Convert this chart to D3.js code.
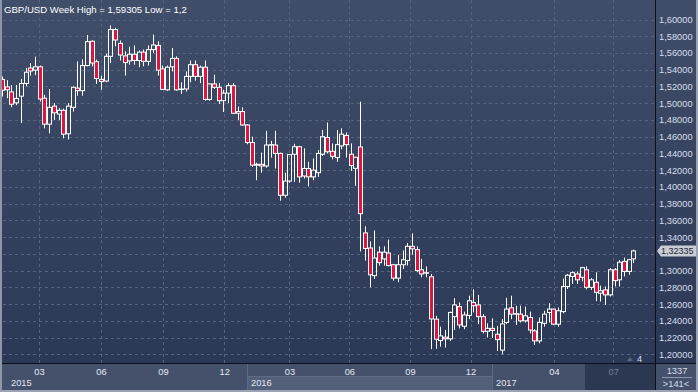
<!DOCTYPE html>
<html><head><meta charset="utf-8">
<script src="https://cdn.jsdelivr.net/npm/d3@7"></script>
<style>html,body{margin:0;padding:0;background:#2f3c58;overflow:hidden}text{font-family:"Liberation Sans",Arial,sans-serif}</style>
</head><body>
<svg id="c" width="698" height="392"></svg>
<script>
// ---- data ----
const firstWeek = "2015-01-05"; // Monday of first weekly candle
const open = [1.5284,1.5195,1.5135,1.5004,1.5084,1.5236,1.5420,1.5395,1.5435,1.5060,
1.4750,1.4965,1.4870,1.4915,1.4635,1.4950,1.5180,1.5150,1.5450,1.5740,
1.5495,1.5285,1.5265,1.5560,1.5880,1.5715,1.5565,1.5505,1.5585,1.5510,
1.5610,1.5500,1.5640,1.5690,1.5410,1.5160,1.5435,1.5535,1.5170,1.5170,
1.5320,1.5460,1.5320,1.5430,1.5045,1.5230,1.5190,1.5030,1.5120,1.5210,
1.4880,1.4900,1.4740,1.4530,1.4260,1.4270,1.4250,1.4500,1.4500,1.4400,
1.3900,1.4070,1.4390,1.4480,1.4130,1.4220,1.4120,1.4170,1.4390,1.4590,
1.4425,1.4350,1.4490,1.4615,1.4390,1.4222,1.4477,1.3450,1.3270,1.2940,
1.3220,1.3140,1.3210,1.3070,1.2910,1.3070,1.3120,1.3290,1.3250,1.3010,
1.2970,1.2926,1.2420,1.2165,1.2205,1.2185,1.2450,1.2570,1.2335,1.2465,
1.2620,1.2590,1.2450,1.2275,1.2310,1.2240,1.2050,1.2380,1.2555,1.2480,
1.2480,1.2400,1.2440,1.2280,1.2160,1.2370,1.2500,1.2540,1.2360,1.2510,
1.2810,1.2930,1.2960,1.2920,1.3010,1.2800,1.2860,1.2730,1.2770,1.2710,
1.3010,1.2890,1.3110,1.2990,1.3140];
const high = [1.5320,1.5275,1.5216,1.5216,1.5290,1.5420,1.5480,1.5555,1.5450,1.5100,
1.5170,1.5000,1.4940,1.4935,1.5000,1.5200,1.5500,1.5525,1.5815,1.5750,
1.5520,1.5330,1.5590,1.5930,1.5900,1.5750,1.5620,1.5675,1.5690,1.5630,
1.5640,1.5690,1.5820,1.5740,1.5450,1.5450,1.5660,1.5560,1.5250,1.5380,
1.5510,1.5510,1.5450,1.5510,1.5240,1.5340,1.5240,1.5160,1.5240,1.5240,
1.4960,1.4950,1.4750,1.4600,1.4290,1.4410,1.4670,1.4550,1.4670,1.4410,
1.4170,1.4390,1.4515,1.4490,1.4460,1.4300,1.4340,1.4440,1.4680,1.4770,
1.4520,1.4680,1.4700,1.4650,1.4520,1.4360,1.5018,1.3530,1.3350,1.3480,
1.3290,1.3290,1.3370,1.3080,1.3190,1.3240,1.3330,1.3445,1.3290,1.3140,
1.3050,1.2960,1.2460,1.2330,1.2290,1.2510,1.2670,1.2620,1.2510,1.2700,
1.2775,1.2710,1.2480,1.2370,1.2430,1.2340,1.2420,1.2675,1.2700,1.2580,
1.2580,1.2570,1.2510,1.2300,1.2440,1.2520,1.2610,1.2545,1.2560,1.2905,
1.2960,1.2990,1.2990,1.3045,1.3050,1.2910,1.2980,1.2820,1.2810,1.3030,
1.3030,1.3125,1.3155,1.3140,1.3250];
const low = [1.5080,1.5060,1.4952,1.4976,1.4764,1.5200,1.5330,1.5335,1.5020,1.4700,
1.4640,1.4800,1.4800,1.4580,1.4566,1.4900,1.5090,1.5090,1.5440,1.5440,
1.5230,1.5160,1.5250,1.5480,1.5680,1.5510,1.5330,1.5460,1.5460,1.5430,
1.5440,1.5450,1.5600,1.5330,1.5160,1.5150,1.5380,1.5150,1.5110,1.5140,
1.5250,1.5270,1.5240,1.5030,1.5030,1.5170,1.4990,1.4895,1.5000,1.4870,
1.4800,1.4730,1.4510,1.4240,1.4080,1.4170,1.4230,1.4350,1.4220,1.3835,
1.3870,1.4050,1.4060,1.4050,1.4100,1.4005,1.4080,1.4120,1.4370,1.4400,
1.4330,1.4300,1.4450,1.4350,1.4190,1.4013,1.3229,1.3120,1.2800,1.2900,
1.3060,1.3060,1.3050,1.2880,1.2860,1.3020,1.3060,1.3190,1.2980,1.2920,
1.2920,1.2062,1.2065,1.2090,1.2080,1.2160,1.2290,1.2310,1.2300,1.2420,
1.2500,1.2360,1.2250,1.2200,1.2195,1.2040,1.2000,1.2360,1.2420,1.2350,
1.2380,1.2380,1.2250,1.2110,1.2130,1.2330,1.2380,1.2350,1.2330,1.2490,
1.2780,1.2840,1.2840,1.2870,1.2775,1.2770,1.2635,1.2630,1.2590,1.2690,
1.2810,1.2810,1.2930,1.2950,1.3090];
const close = [1.5156,1.5160,1.4988,1.5057,1.5236,1.5370,1.5385,1.5435,1.5050,1.4750,
1.4950,1.4885,1.4915,1.4630,1.4965,1.5190,1.5150,1.5450,1.5735,1.5480,
1.5295,1.5260,1.5560,1.5880,1.5755,1.5575,1.5485,1.5585,1.5510,1.5610,
1.5500,1.5640,1.5695,1.5395,1.5165,1.5430,1.5535,1.5160,1.5165,1.5320,
1.5460,1.5320,1.5430,1.5045,1.5230,1.5190,1.5030,1.5120,1.5210,1.4880,
1.4900,1.4740,1.4530,1.4260,1.4270,1.4250,1.4500,1.4505,1.4400,1.3900,
1.4070,1.4385,1.4480,1.4120,1.4220,1.4120,1.4200,1.4400,1.4600,1.4420,
1.4365,1.4505,1.4630,1.4505,1.4255,1.4354,1.3680,1.3265,1.2950,1.3150,
1.3095,1.3220,1.3060,1.2910,1.3070,1.3130,1.3290,1.3260,1.3000,1.2960,
1.2975,1.2422,1.2180,1.2220,1.2185,1.2500,1.2590,1.2350,1.2470,1.2640,
1.2580,1.2450,1.2275,1.2310,1.2285,1.2175,1.2363,1.2540,1.2480,1.2485,
1.2400,1.2460,1.2290,1.2160,1.2380,1.2480,1.2540,1.2360,1.2520,1.2810,
1.2945,1.2975,1.2890,1.3035,1.2800,1.2890,1.2740,1.2760,1.2710,1.3010,
1.2880,1.3100,1.2990,1.3130,1.3235];
const yTicks = [1.20,1.22,1.24,1.26,1.28,1.30,1.32,1.34,1.36,1.38,1.40,1.42,1.44,1.46,1.48,1.50,1.52,1.54,1.56,1.58,1.60];
const monthTicks = ["2015-03-01","2015-06-01","2015-09-01","2015-12-01","2016-03-07","2016-06-04","2016-09-02","2016-12-01","2017-04-04","2017-07-01"];
const monthLabels = ["03","06","09","12","03","06","09","12","04","07"];
const yearStarts = ["2015-01-01","2016-01-04","2017-01-02"];
const yearLabels = ["2015","2016","2017"];
const recentStart = "2017-05-20";
const lastPrice = 1.32335;
const titleText = "GBP/USD Week High = 1,59305 Low = 1,2";
const barCount = "1337";
const visibleCount = ">141<";
const pageNum = "4";

// ---- layout ----
const W = 698, H = 392, PR = 655, PB = 363, PL = 2;
const parse = d3.utcParse("%Y-%m-%d");
const svg = d3.select("#c");
const defs = svg.append("defs");
const g1 = defs.append("linearGradient").attr("id","bg").attr("x1",0).attr("y1",0).attr("x2",0).attr("y2",1);
g1.append("stop").attr("offset","0%").attr("stop-color","#414e6a");
g1.append("stop").attr("offset","100%").attr("stop-color","#2b3856");
defs.append("clipPath").attr("id","clip").append("rect").attr("x",PL).attr("y",0).attr("width",PR-PL).attr("height",PB);

svg.append("rect").attr("x",0).attr("y",0).attr("width",W).attr("height",PB).attr("fill","url(#bg)");

const x = d3.scaleUtc().domain([parse("2015-01-01"), parse("2017-09-01")]).range([-0.7, 655]);
const y = d3.scaleLinear().domain([1.20, 1.60]).range([354.3, 19.5]);

const weeks = open.map((_, i) => d3.utcMonday.offset(parse(firstWeek), i));
const mDates = monthTicks.map(parse);

// grid
const grid = svg.append("g").attr("stroke","#57637d").attr("stroke-dasharray","3,3").attr("stroke-width",1);
grid.selectAll("line.h").data(yTicks).join("line").attr("class","h")
  .attr("x1",PL+1).attr("x2",PR).attr("y1",d=>Math.round(y(d))+0.5).attr("y2",d=>Math.round(y(d))+0.5);
grid.selectAll("line.v").data(mDates).join("line").attr("class","v")
  .attr("x1",d=>Math.round(x(d))+0.5).attr("x2",d=>Math.round(x(d))+0.5).attr("y1",0).attr("y2",PB);

// candles
const cg = svg.append("g").attr("clip-path","url(#clip)");
const data = weeks.map((d,i)=>({d,o:open[i],h:high[i],l:low[i],c:close[i]}));
const cand = cg.selectAll("g.k").data(data).join("g").attr("class","k");
const cx = d => Math.round(x(d.d));
cand.append("line").attr("stroke","#ffffff").attr("stroke-width",1)
  .attr("x1",d=>cx(d)+0.5).attr("x2",d=>cx(d)+0.5)
  .attr("y1",d=>y(d.h)).attr("y2",d=>y(Math.max(d.o,d.c)));
cand.append("line").attr("stroke","#ffffff").attr("stroke-width",1)
  .attr("x1",d=>cx(d)+0.5).attr("x2",d=>cx(d)+0.5)
  .attr("y1",d=>y(Math.min(d.o,d.c))).attr("y2",d=>y(d.l));
cand.append("rect")
  .attr("x",d=>cx(d)-1.5).attr("width",4)
  .attr("y",d=>y(Math.max(d.o,d.c))).attr("height",d=>Math.max(0.5,Math.abs(y(d.o)-y(d.c))))
  .attr("fill",d=>d.c<d.o?"#e0143c":"none").attr("stroke","#ffffff").attr("stroke-width",1);

// right panel
svg.append("rect").attr("x",PR).attr("y",0).attr("width",W-PR).attr("height",PB).attr("fill","url(#bg)");
const ly = y(lastPrice);
const ra = svg.append("g").attr("transform",`translate(${PR},0)`)
  .call(d3.axisRight(y).tickValues(yTicks.filter(v=>Math.abs(y(v)-ly)>8)).tickSize(0).tickPadding(4).tickFormat(d=>d.toFixed(5).replace(".",",")));
ra.select(".domain").remove();
ra.selectAll("text").attr("fill","#d6deec").style("font-size","9.3px").style("font-family","Liberation Sans, Arial, sans-serif");

// last price marker
svg.append("path").attr("d",`M${PR+2},${ly} L${PR+6},${ly-5.5} L${W-2},${ly-5.5} L${W-2},${ly+5.5} L${PR+6},${ly+5.5} Z`)
  .attr("fill","#c9cdd5");
svg.append("text").attr("x",PR+6).attr("y",ly+3.3).attr("fill","#1f2534").style("font-size","9px")
  .text(lastPrice.toFixed(5).replace(".",","));

// bottom band
svg.append("rect").attr("x",0).attr("y",PB).attr("width",W).attr("height",H-PB).attr("fill","#45516b");
const ys = yearStarts.map(parse);
svg.append("rect").attr("x",Math.round(x(ys[1]))).attr("y",377).attr("width",Math.round(x(ys[2]))-Math.round(x(ys[1]))).attr("height",H-377).attr("fill","#535f78");
svg.append("line").attr("x1",Math.round(x(ys[1]))).attr("x2",Math.round(x(ys[2]))).attr("y1",376.5).attr("y2",376.5).attr("stroke","#5f6b84");
svg.append("rect").attr("x",Math.round(x(parse(recentStart)))).attr("y",PB).attr("width",PR-Math.round(x(parse(recentStart)))).attr("height",H-PB).attr("fill","#2c3752");
svg.selectAll("line.yd").data(ys.slice(1)).join("line").attr("class","yd")
  .attr("x1",d=>Math.round(x(d))+0.5).attr("x2",d=>Math.round(x(d))+0.5).attr("y1",PB).attr("y2",H).attr("stroke","#5d6982");

const ba = svg.append("g").attr("transform",`translate(0,${PB})`)
  .call(d3.axisBottom(x).tickValues(mDates).tickSize(0).tickPadding(5.5).tickFormat((d,i)=>monthLabels[i]));
ba.select(".domain").remove();
ba.selectAll("text").attr("fill",d=>d>=parse(recentStart)?"#76829a":"#e2e8f2").style("font-size","9.3px").style("font-family","Liberation Sans, Arial, sans-serif");

svg.selectAll("text.yr").data(ys).join("text").attr("class","yr")
  .attr("x",(d,i)=>i===0?11:Math.round(x(d))+4).attr("y",386).attr("fill","#e2e8f2").style("font-size","9.3px")
  .text((d,i)=>yearLabels[i]);

// right-bottom box
svg.append("text").attr("x",677).attr("y",374).attr("text-anchor","middle").attr("fill","#d6deec").style("font-size","9.3px").text(barCount);
svg.append("line").attr("x1",662).attr("x2",692).attr("y1",377.5).attr("y2",377.5).attr("stroke","#8c97ad");
svg.append("text").attr("x",676).attr("y",386.5).attr("text-anchor","middle").attr("fill","#d6deec").style("font-size","9.3px").text(visibleCount);

// frame lines
svg.append("line").attr("x1",0).attr("x2",W).attr("y1",PB+0.5).attr("y2",PB+0.5).attr("stroke","#0b0f18");
svg.append("line").attr("x1",PR+0.5).attr("x2",PR+0.5).attr("y1",0).attr("y2",H).attr("stroke","#0b0f18");
svg.append("rect").attr("x",0).attr("y",0).attr("width",2).attr("height",H).attr("fill","#8e97a9");
svg.append("rect").attr("x",0).attr("y",H-2).attr("width",W).attr("height",2).attr("fill","#9aa3b4");
svg.append("rect").attr("x",W-2).attr("y",0).attr("width",2).attr("height",H).attr("fill","#9aa3b4");

// page indicator
svg.append("path").attr("d","M627,361 L633,361 L630,357 Z").attr("fill","#5a657e");
svg.append("text").attr("x",637).attr("y",362).attr("fill","#d6deec").style("font-size","9.3px").text(pageNum);

// title
svg.append("text").attr("x",4).attr("y",13).attr("fill","#ffffff").style("font-size","9.6px").text(titleText);
</script>
</body></html>
